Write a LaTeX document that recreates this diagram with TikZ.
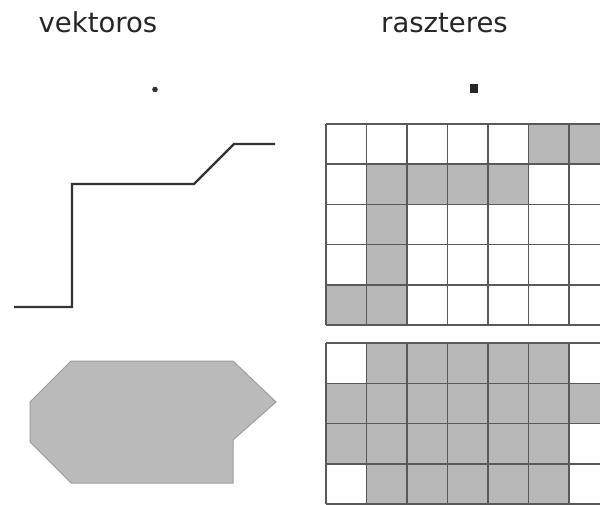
\documentclass[tikz,border=0pt]{standalone}
\usepackage{fontspec}
\setmainfont{DejaVu Sans}
\begin{document}
\begin{tikzpicture}[x=1pt,y=-1pt,
  title/.style={font=\fontsize{27.5}{32}\selectfont, text=black!85, inner sep=0pt, anchor=base},
  vline/.style={draw=black!80, line width=2.4pt, line join=miter},
  cellfill/.style={fill=black!28},
  gridline/.style={draw=black!65, line width=1.5pt}]
\useasboundingbox (0,0) rectangle (600,504);
\clip (0,0) rectangle (600,504);
\fill[white] (0,0) rectangle (600,504);
% titles
\node[title] (vt) at (98,32) {vektoros};
\node[title] (rt) at (444.5,32) {raszteres};
% point symbols
\fill[black!80] (155,89.5) circle [radius=2.8pt];
\fill[black!85] (470,84) rectangle (478,93);
% vector line
\draw[vline] (14,307) -- (72,307) -- (72,184) -- (194,184) -- (234,144) -- (275,144);
% vector polygon
\filldraw[fill=black!27, draw=black!38, line width=1pt]
  (71,361) -- (233,361) -- (276,402) -- (233,440) -- (233,483) -- (71,483) -- (30,442) -- (30,402) -- cycle;
% top raster
\def\gx{326}\def\gdx{40.5}
\def\gy{124}\def\gdy{40.2}
\foreach \c/\r in {5/0,6/0,1/1,2/1,3/1,4/1,1/2,1/3,0/4,1/4}{
  \fill[cellfill] ({\gx+\c*\gdx},{\gy+\r*\gdy}) rectangle ++(\gdx,\gdy);
}
\foreach \i in {0,...,7}{
  \draw[gridline] ({\gx+\i*\gdx},\gy) -- ++(0,{5*\gdy});
}
\foreach \j in {0,...,5}{
  \draw[gridline] (\gx,{\gy+\j*\gdy}) -- ++({7*\gdx},0);
}
% bottom raster
\def\hy{343}\def\hdy{40.3}
\foreach \c/\r in {1/0,2/0,3/0,4/0,5/0,
                   0/1,1/1,2/1,3/1,4/1,5/1,6/1,
                   0/2,1/2,2/2,3/2,4/2,5/2,
                   1/3,2/3,3/3,4/3,5/3}{
  \fill[cellfill] ({\gx+\c*\gdx},{\hy+\r*\hdy}) rectangle ++(\gdx,\hdy);
}
\foreach \i in {0,...,7}{
  \draw[gridline] ({\gx+\i*\gdx},\hy) -- ++(0,{4*\hdy});
}
\foreach \j in {0,...,4}{
  \draw[gridline] (\gx,{\hy+\j*\hdy}) -- ++({7*\gdx},0);
}
\end{tikzpicture}
\end{document}
